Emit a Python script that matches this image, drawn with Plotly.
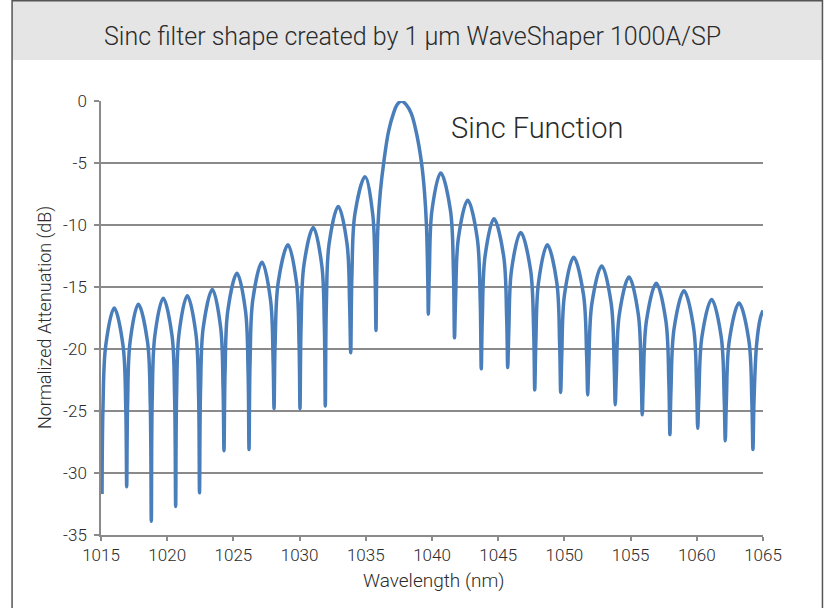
import plotly.graph_objects as go

# Wavelength (nm) and normalized attenuation (dB)
wavelength = [
    1015.08, 1015.15, 1015.36, 1016.00, 1016.66, 1016.87,
    1016.94, 1017.01, 1017.20, 1017.82, 1018.51, 1018.72,
    1018.80, 1018.87, 1019.07, 1019.70, 1020.36, 1020.56,
    1020.64, 1020.71, 1020.90, 1021.52, 1022.16, 1022.37,
    1022.44, 1022.52, 1022.73, 1023.41, 1024.03, 1024.22,
    1024.29, 1024.37, 1024.58, 1025.27, 1025.91, 1026.11,
    1026.18, 1026.26, 1026.47, 1027.16, 1027.80, 1028.00,
    1028.07, 1028.15, 1028.39, 1029.12, 1029.76, 1029.96,
    1030.03, 1030.11, 1030.33, 1031.03, 1031.67, 1031.87,
    1031.94, 1032.02, 1032.23, 1032.92, 1033.58, 1033.78,
    1033.86, 1033.95, 1034.18, 1034.94, 1035.52, 1035.70,
    1035.77, 1035.81, 1035.92, 1036.10, 1036.35, 1036.71, 1037.09, 1037.36,
    1037.70, 1038.05, 1038.43, 1038.81, 1039.21, 1039.43, 1039.58, 1039.69,
    1039.72, 1039.80, 1040.00, 1040.66, 1041.39, 1041.62,
    1041.70, 1041.78, 1042.00, 1042.70, 1043.41, 1043.64,
    1043.72, 1043.80, 1044.01, 1044.68, 1045.41, 1045.64,
    1045.72, 1045.80, 1046.01, 1046.70, 1047.44, 1047.68,
    1047.76, 1047.84, 1048.05, 1048.71, 1049.42, 1049.64,
    1049.72, 1049.80, 1050.01, 1050.70, 1051.44, 1051.68,
    1051.76, 1051.84, 1052.08, 1052.82, 1053.53, 1053.76,
    1053.84, 1053.92, 1054.15, 1054.88, 1055.58, 1055.80,
    1055.88, 1055.96, 1056.20, 1056.94, 1057.66, 1057.89,
    1057.97, 1058.05, 1058.29, 1059.03, 1059.76, 1059.99,
    1060.07, 1060.15, 1060.39, 1061.12, 1061.84, 1062.07,
    1062.15, 1062.23, 1062.46, 1063.19, 1063.93, 1064.16,
    1064.24, 1064.32, 1064.52, 1064.80, 1065.00,
]
attenuation_db = [
    -31.7, -24.7, -19.7, -16.7, -19.7, -24.7,
    -31.1, -24.4, -19.4, -16.4, -19.4, -24.4,
    -33.9, -23.9, -18.9, -15.9, -18.9, -23.9,
    -32.7, -23.7, -18.7, -15.7, -18.7, -23.7,
    -31.6, -23.2, -18.2, -15.2, -18.2, -23.2,
    -28.2, -21.9, -16.9, -13.9, -16.9, -21.9,
    -28.1, -21.0, -16.0, -13.0, -16.0, -21.0,
    -24.8, -19.6, -14.6, -11.6, -14.6, -19.6,
    -24.8, -18.2, -13.2, -10.2, -13.2, -18.2,
    -24.6, -16.5, -11.5, -8.5, -11.5, -16.5,
    -20.3, -14.1, -9.1, -6.1, -9.1, -14.1,
    -18.5, -15.0, -10.0, -7.3, -5.0, -2.5, -1.0, -0.3,
    0.0, -0.3, -1.0, -2.5, -5.0, -7.3, -10.0, -15.0,
    -17.2, -13.8, -8.8, -5.8, -8.8, -13.8,
    -19.1, -16.0, -11.0, -8.0, -11.0, -16.0,
    -21.6, -17.5, -12.5, -9.5, -12.5, -17.5,
    -21.5, -18.6, -13.6, -10.6, -13.6, -18.6,
    -23.3, -19.6, -14.6, -11.6, -14.6, -19.6,
    -23.5, -20.6, -15.6, -12.6, -15.6, -20.6,
    -23.7, -21.3, -16.3, -13.3, -16.3, -21.3,
    -24.5, -22.2, -17.2, -14.2, -17.2, -22.2,
    -25.3, -22.7, -17.7, -14.7, -17.7, -22.7,
    -26.9, -23.3, -18.3, -15.3, -18.3, -23.3,
    -26.4, -24.0, -19.0, -16.0, -19.0, -24.0,
    -27.4, -24.3, -19.3, -16.3, -19.3, -24.3,
    -28.1, -24.2, -19.6, -17.5, -16.9,
]

x_ticks = [1015, 1020, 1025, 1030, 1035, 1040, 1045, 1050, 1055, 1060, 1065]
y_ticks = [0, -5, -10, -15, -20, -25, -30, -35]

title_text = "Sinc filter shape created by 1 µm WaveShaper 1000A/SP"
label_text = "Sinc Function"
x_title = "Wavelength (nm)"
y_title = "Normalized Attenuation (dB)"

FONT = "Roboto"
TXT = "#2b2b2b"
GRID = "#8a8a8a"

fig = go.Figure()
fig.add_trace(go.Scatter(
    x=wavelength, y=attenuation_db, mode="lines",
    line=dict(color="#4a7ebb", width=3.5, shape="spline", smoothing=1.0),
    hoverinfo="x+y", showlegend=False,
))

W, H = 826, 608
L, R, T, B = 101, 62.5, 101, 73
pw, ph = W - L - R, H - T - B


def px(xp):
    return (xp - L) / pw


def py(yp):
    return (H - B - yp) / ph


fig.update_layout(
    width=W, height=H,
    margin=dict(l=L, r=R, t=T, b=B, pad=0),
    paper_bgcolor="white", plot_bgcolor="white",
    font=dict(family=FONT, color=TXT, weight=300),
    xaxis=dict(
        range=[1015, 1065], tickvals=x_ticks, ticktext=[str(v) for v in x_ticks],
        showgrid=False, zeroline=False,
        showline=True, linecolor=GRID, linewidth=1.5,
        ticks="outside", ticklen=4, tickcolor=GRID, tickwidth=1.5,
        tickfont=dict(family=FONT, size=17, color=TXT, weight=300),
    ),
    yaxis=dict(
        range=[-35, 0], tickvals=y_ticks, ticktext=[str(v) for v in y_ticks],
        showgrid=True, gridcolor=GRID, gridwidth=2, zeroline=False,
        showline=True, linecolor=GRID, linewidth=1.5,
        ticks="outside", ticklen=5, tickcolor=GRID, tickwidth=1.5,
        ticklabelstandoff=4,
        tickfont=dict(family=FONT, size=17, color=TXT, weight=300),
    ),
    shapes=[
        dict(type="rect", xref="paper", yref="paper",
             x0=px(12), x1=px(823), y0=py(60), y1=py(0.75),
             fillcolor="#e5e5e5", line=dict(width=0), layer="below"),
        dict(type="rect", xref="paper", yref="paper",
             x0=px(12), x1=px(823), y0=py(620), y1=py(0.75),
             fillcolor="rgba(0,0,0,0)", line=dict(color="#555555", width=1.5)),
    ],
    annotations=[
        dict(text=title_text, xref="paper", yref="paper", x=px(413), y=py(36),
             xanchor="center", yanchor="middle", showarrow=False,
             font=dict(family=FONT, size=25, color=TXT, weight=300)),
        dict(text=label_text, xref="paper", yref="paper", x=px(449), y=py(128),
             xanchor="left", yanchor="middle", showarrow=False,
             font=dict(family=FONT, size=29, color=TXT, weight=300)),
        dict(text=x_title, xref="paper", yref="paper", x=px(434), y=py(580),
             xanchor="center", yanchor="middle", showarrow=False,
             font=dict(family=FONT, size=19, color=TXT, weight=300)),
        dict(text=y_title, xref="paper", yref="paper", x=px(45), y=py(318),
             xanchor="center", yanchor="middle", showarrow=False, textangle=-90,
             font=dict(family=FONT, size=18, color=TXT, weight=300)),
    ],
)

fig.write_html(
    "out.html",
    config={"displayModeBar": False},
    post_script="document.body.style.margin='0';document.body.style.overflow='hidden';",
)
